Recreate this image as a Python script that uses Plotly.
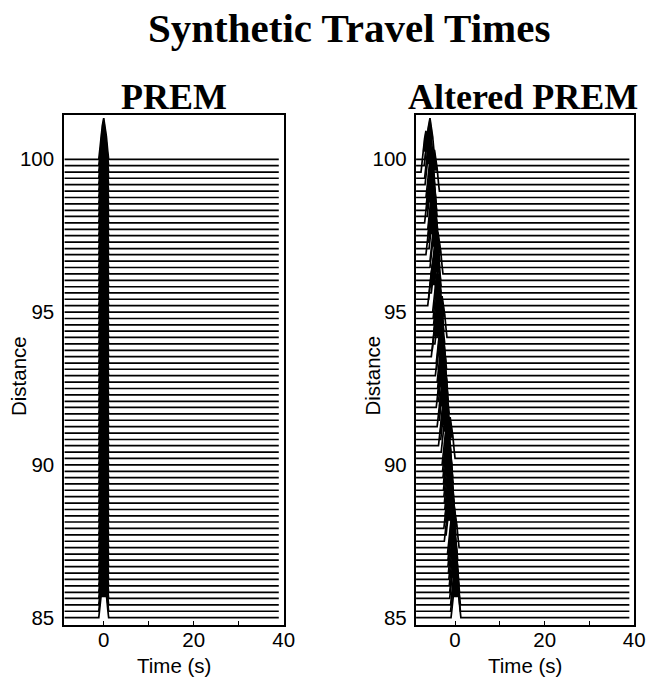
import plotly.graph_objects as go

# layout canvas (the captured picture is 652x679)
W, H = 664, 683
SX, SY = 652 / W, 679 / H   # picture px per layout px


def lx_(px):   # picture x -> layout x
    return px / SX


def ly_(py):   # picture y -> layout y
    return py / SY


# ---------------- data ----------------
distances = [85.00, 85.21, 85.42, 85.63, 85.83, 86.04, 86.25, 86.46, 86.67, 86.88,
             87.08, 87.29, 87.50, 87.71, 87.92, 88.13, 88.33, 88.54, 88.75, 88.96,
             89.17, 89.38, 89.58, 89.79, 90.00, 90.21, 90.42, 90.63, 90.83, 91.04,
             91.25, 91.46, 91.67, 91.88, 92.08, 92.29, 92.50, 92.71, 92.92, 93.13,
             93.33, 93.54, 93.75, 93.96, 94.17, 94.38, 94.58, 94.79, 95.00, 95.21,
             95.42, 95.63, 95.83, 96.04, 96.25, 96.46, 96.67, 96.88, 97.08, 97.29,
             97.50, 97.71, 97.92, 98.13, 98.33, 98.54, 98.75, 98.96, 99.17, 99.38,
             99.58, 99.79, 100.00]

# arrival time of the pulse (s) at each distance
prem_shifts = [0.0] * len(distances)
altered_shifts = [0.2, 0.1, 0.1, -0.1, -0.1, -0.2, -0.3, -0.4, -0.5, -0.5,
                  -0.6, -0.2, -1.3, -0.9, -1.4, -1.0, -1.1, -1.2, -1.3, -1.4,
                  -1.5, -1.5, -1.6, -1.7, -1.8, -1.1, -2.0, -2.6, -2.1, -2.2,
                  -2.9, -2.4, -2.4, -3.1, -2.6, -2.7, -2.8, -2.9, -3.3, -3.0,
                  -3.1, -4.2, -4.0, -3.4, -2.9, -3.6, -3.7, -3.8, -3.9, -5.0,
                  -4.8, -4.2, -4.2, -4.3, -3.8, -4.5, -4.5, -5.4, -4.7, -4.8,
                  -4.9, -5.0, -5.7, -5.1, -5.2, -5.3, -5.4, -4.6, -5.6, -5.7,
                  -6.5, -5.8, -5.6]

# pulse shape (relative time in s, normalised amplitude)
pulse_dt = [-1.1, -0.9, -0.6, -0.3, 0.0, 0.3, 0.6, 0.9, 1.1]
pulse_amp = [0.0, 0.2, 0.55, 0.82, 1.0, 0.82, 0.55, 0.2, 0.0]

amp_deg = 1.35        # trace amplitude in degrees of distance
fill_level = 0.5      # pulse is filled above this fraction of its peak
t_start, t_end = -8.7, 38.9

x_ticks = [0, 10, 20, 30, 40]
x_ticktext = ["0", "", "20", "", "40"]
y_ticks = [85, 90, 95, 100]
x_range = [-8.8, 40]
y_range = [84.76, 101.45]


def build(shifts):
    lx, ly, fx, fy = [], [], [], []
    for d, t0 in zip(distances, shifts):
        lx += [t_start] + [t0 + dt for dt in pulse_dt] + [t_end, None]
        ly += [d] + [d + amp_deg * a for a in pulse_amp] + [d, None]
        px, py = [], []
        for k in range(len(pulse_dt) - 1):
            a1, a2 = pulse_amp[k], pulse_amp[k + 1]
            t1, t2 = t0 + pulse_dt[k], t0 + pulse_dt[k + 1]
            if a1 >= fill_level:
                px.append(t1); py.append(d + amp_deg * a1)
            if (a1 - fill_level) * (a2 - fill_level) < 0:
                f = (fill_level - a1) / (a2 - a1)
                px.append(t1 + f * (t2 - t1)); py.append(d + amp_deg * fill_level)
        fx += px + [px[0], None]
        fy += py + [py[0], None]
    return lx, ly, fx, fy


fig = go.Figure()
for shifts, xa, ya in [(prem_shifts, "x", "y"), (altered_shifts, "x2", "y2")]:
    lx, ly, fx, fy = build(shifts)
    fig.add_trace(go.Scatter(x=fx, y=fy, mode="lines", fill="toself",
                             fillcolor="black", line=dict(color="black", width=0.5),
                             xaxis=xa, yaxis=ya, showlegend=False, hoverinfo="skip"))
    fig.add_trace(go.Scatter(x=lx, y=ly, mode="lines",
                             line=dict(color="black", width=1.7),
                             xaxis=xa, yaxis=ya, showlegend=False, hoverinfo="skip"))

tick_font = dict(family="Liberation Sans, Arial, sans-serif", size=20.5, color="black")


def xaxis(domain, anchor):
    return dict(domain=domain, range=x_range, anchor=anchor, showgrid=False,
                zeroline=False, showline=True, mirror=True, linecolor="black",
                linewidth=1.6, ticks="inside", ticklen=4, tickwidth=1.4,
                tickcolor="black", tickvals=x_ticks, ticktext=x_ticktext,
                tickfont=tick_font, ticklabelstandoff=-4)


def yaxis(domain, anchor, standoff):
    return dict(domain=domain, range=y_range, anchor=anchor, showgrid=False,
                zeroline=False, showline=True, mirror=True, linecolor="black",
                linewidth=1.6, ticks="", tickvals=y_ticks, tickfont=tick_font,
                ticklabelstandoff=standoff)


ydom = [1 - ly_(625) / H, 1 - ly_(115) / H]
fig.update_layout(
    width=W, height=H, margin=dict(l=0, r=0, t=0, b=0), autosize=False,
    paper_bgcolor="white", plot_bgcolor="white",
    xaxis=xaxis([lx_(64) / W, lx_(283.3) / W], "y"),
    yaxis=yaxis(ydom, "x", 4),
    xaxis2=xaxis([lx_(415) / W, lx_(633.3) / W], "y2"),
    yaxis2=yaxis(ydom, "x2", 3),
)

serif = "Liberation Serif, Times New Roman, serif"
sans = "Liberation Sans, Arial, sans-serif"
ann = [
    ("<b>Synthetic Travel Times</b>", 348, 28.5, serif, 41, 0),
    ("<b>PREM</b>", 174, 97, serif, 36, 0),
    ("<b>Altered PREM</b>", 522, 97, serif, 36, 0),
    ("Time (s)", 173.5, 665, sans, 20.5, 0),
    ("Time (s)", 524, 665, sans, 20.5, 0),
    ("Distance", 18, 376, sans, 20.5, -90),
    ("Distance", 371, 376, sans, 20.5, -90),
]
for text, x, y, fam, size, ang in ann:
    fig.add_annotation(text=text, x=lx_(x) / W, y=1 - ly_(y) / H, xref="paper",
                       yref="paper", xanchor="center", yanchor="middle",
                       showarrow=False, textangle=ang,
                       font=dict(family=fam, size=size, color="black"))

fig.write_html("out.html")
